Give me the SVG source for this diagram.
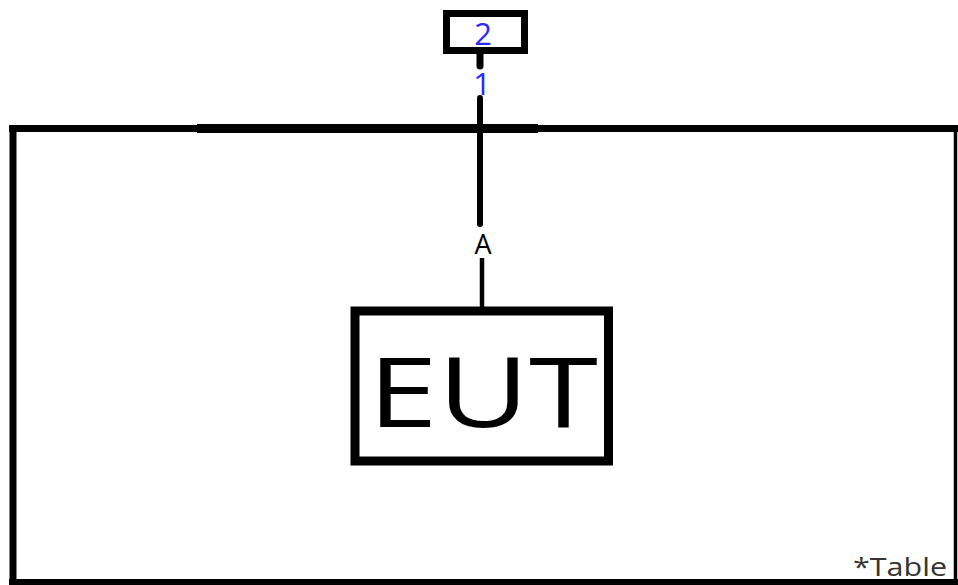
<svg xmlns="http://www.w3.org/2000/svg" width="958" height="585" viewBox="0 0 958 585">
<style>
.box{fill:#fff;stroke:#000}
.lbl{font-family:"Open Sans","DejaVu Sans",sans-serif;text-anchor:middle}
.blue{fill:#2a2aff}
.wire{stroke:#000;fill:none}
</style>
<rect width="958" height="585" fill="#fff"/>
<g id="table">
<path d="M13 125V585M9 128.5H958M9 582.5H958" stroke="#000" fill="none" stroke-width="7"/>
<line x1="955.5" y1="125" x2="955.5" y2="585" stroke="#000" stroke-width="3.5"/>
<text class="lbl" x="900" y="576" font-size="25" fill="#333" textLength="94" lengthAdjust="spacingAndGlyphs">*Table</text>
</g>
<g id="connectors">
<line class="wire" x1="197" y1="128.5" x2="538" y2="128.5" stroke-width="9"/>
<line class="wire" x1="480" y1="52" x2="480" y2="66" stroke-width="7" stroke-linecap="round"/>
<line class="wire" x1="480" y1="98" x2="480" y2="224" stroke-width="6" stroke-linecap="round"/>
<line class="wire" x1="482" y1="258" x2="482" y2="310" stroke-width="4.5"/>
<text class="lbl blue" x="482" y="95" font-size="31">1</text>
<text class="lbl" x="483" y="254" font-size="27" fill="#000">A</text>
</g>
<g id="node2">
<rect class="box" x="446.5" y="13.5" width="78" height="37" stroke-width="7"/>
<text class="lbl blue" x="483" y="45" font-size="31">2</text>
</g>
<g id="eut">
<rect class="box" x="355" y="311" width="253.5" height="150" stroke-width="9"/>
<text class="lbl" x="483" y="427" font-size="97" fill="#000" textLength="230" lengthAdjust="spacingAndGlyphs">EUT</text>
</g>
</svg>
